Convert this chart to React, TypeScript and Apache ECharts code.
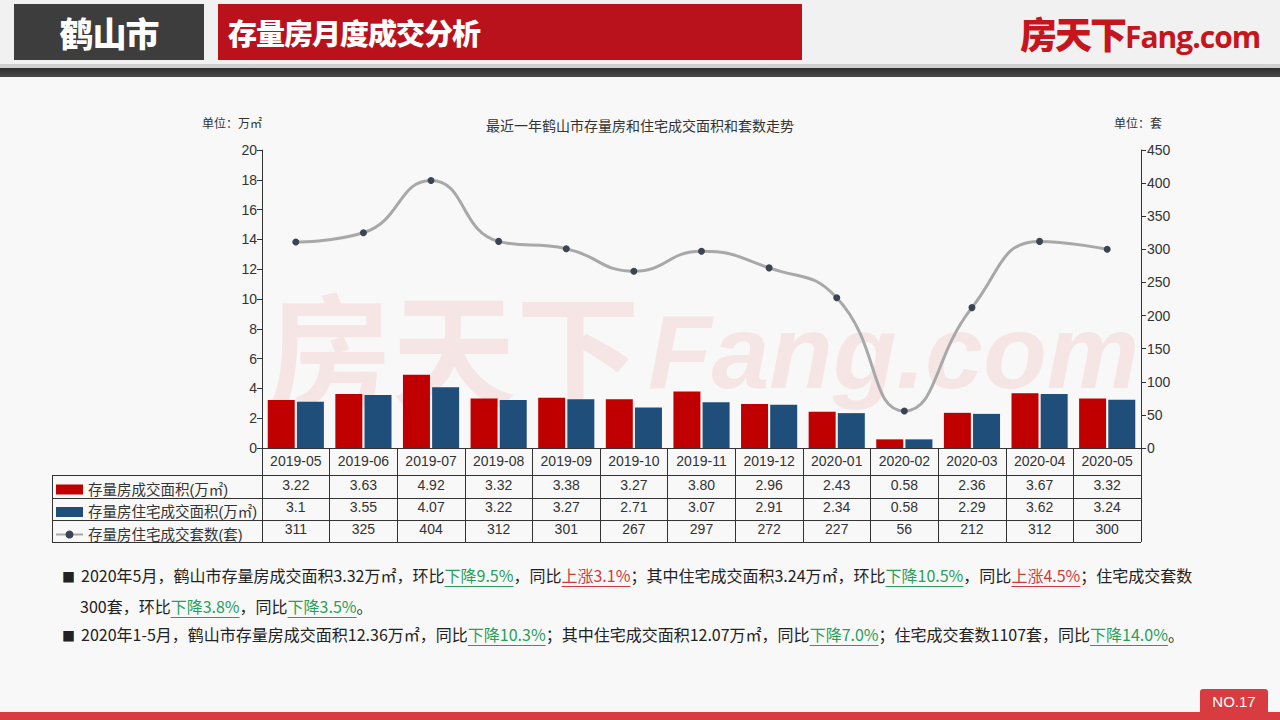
import React, { useEffect, useRef } from "react";
import * as echarts from "echarts";

const categories = ["2019-05", "2019-06", "2019-07", "2019-08", "2019-09", "2019-10", "2019-11", "2019-12", "2020-01", "2020-02", "2020-03", "2020-04", "2020-05"];
const totalArea = [3.22, 3.63, 4.92, 3.32, 3.38, 3.27, 3.8, 2.96, 2.43, 0.58, 2.36, 3.67, 3.32];
const residentialArea = [3.1, 3.55, 4.07, 3.22, 3.27, 2.71, 3.07, 2.91, 2.34, 0.58, 2.29, 3.62, 3.24];
const residentialUnits = [311, 325, 404, 312, 301, 267, 297, 272, 227, 56, 212, 312, 300];

const seriesNames = ["存量房成交面积(万㎡)", "存量房住宅成交面积(万㎡)", "存量房住宅成交套数(套)"];
const leftAxis = { min: 0, max: 20, interval: 2 };
const rightAxis = { min: 0, max: 450, interval: 50 };

const FONT = "'Liberation Sans', 'Noto Sans CJK SC', sans-serif";
const CJK = "'Noto Sans CJK SC', 'Liberation Sans', sans-serif";
const RED = "#c00000";
const BLUE = "#1f4e7a";
const GREEN = "#27a05a";
const PINK = "#d23a3a";

const G = ({ children }: { children: React.ReactNode }) => (
  <span style={{ color: GREEN, textDecoration: "underline", textUnderlineOffset: "4px" }}>{children}</span>
);
const R = ({ children }: { children: React.ReactNode }) => (
  <span style={{ color: PINK, textDecoration: "underline", textUnderlineOffset: "4px" }}>{children}</span>
);

export default function App() {
  const ref = useRef<HTMLDivElement>(null);

  useEffect(() => {
    if (!ref.current) return;
    const chart = echarts.init(ref.current, null, { renderer: "svg" });
    const gridLeft = 262;
    const gridRight = 1141;
    const axisY = 448;
    const lineStyle = { stroke: "#333", lineWidth: 1 };
    const rowYs = [475, 498, 520, 542];

    const tableAxis = (offset: number, fmt: (i: number) => string) => ({
      type: "category",
      data: categories,
      position: "bottom",
      offset,
      axisLine: { show: false },
      axisTick: { show: false },
      axisLabel: {
        interval: 0,
        fontSize: 14,
        color: "#333",
        fontFamily: FONT,
        margin: 6,
        formatter: (_v: string, i: number) => fmt(i),
      },
    });

    chart.setOption({
      animation: false,
      backgroundColor: "transparent",
      title: {
        text: "最近一年鹤山市存量房和住宅成交面积和套数走势",
        left: "center",
        top: 113,
        textStyle: { fontSize: 14, fontWeight: "normal", color: "#333", fontFamily: CJK },
      },
      legend: {
        orient: "vertical",
        left: 50,
        top: 477,
        itemWidth: 27,
        itemHeight: 10,
        itemGap: 7.5,
        textStyle: { fontSize: 14.5, color: "#333", fontFamily: FONT, lineHeight: 15 },
        data: [
          { name: seriesNames[0], icon: "rect" },
          { name: seriesNames[1], icon: "rect" },
          { name: seriesNames[2] },
        ],
      },
      grid: { left: gridLeft, right: 1280 - gridRight, top: 150, bottom: 720 - axisY, containLabel: false },
      xAxis: [
        {
          type: "category",
          data: categories,
          axisLine: { lineStyle: { color: "#333" } },
          axisTick: { show: true, length: 94, lineStyle: { color: "#333" } },
          axisLabel: { interval: 0, fontSize: 14, color: "#333", fontFamily: FONT, margin: 6 },
        },
        tableAxis(24, (i) => totalArea[i].toFixed(2)),
        tableAxis(46, (i) => String(residentialArea[i])),
        tableAxis(68, (i) => String(residentialUnits[i])),
      ],
      yAxis: [
        {
          type: "value",
          min: leftAxis.min,
          max: leftAxis.max,
          interval: leftAxis.interval,
          name: "单位：万㎡",
          nameLocation: "end",
          nameGap: 22,
          nameTextStyle: { fontSize: 12, color: "#333", fontFamily: CJK, align: "right", padding: [0, 0, 0, 0] },
          axisLine: { show: true, lineStyle: { color: "#333" } },
          axisTick: { show: true, length: 5, lineStyle: { color: "#333" } },
          axisLabel: { fontSize: 14, color: "#333", fontFamily: FONT, margin: 5 },
          splitLine: { show: false },
        },
        {
          type: "value",
          min: rightAxis.min,
          max: rightAxis.max,
          interval: rightAxis.interval,
          name: "单位：套",
          nameLocation: "end",
          nameGap: 22,
          nameTextStyle: { fontSize: 12, color: "#333", fontFamily: CJK, align: "left", padding: [0, 0, 0, -27] },
          axisLine: { show: true, lineStyle: { color: "#333" } },
          axisTick: { show: true, length: 5, lineStyle: { color: "#333" } },
          axisLabel: { fontSize: 14, color: "#333", fontFamily: FONT, margin: 6 },
          splitLine: { show: false },
        },
      ],
      series: [
        {
          name: seriesNames[0],
          type: "bar",
          data: totalArea,
          barWidth: 27,
          barGap: "8%",
          itemStyle: { color: RED },
          z: 3,
        },
        {
          name: seriesNames[1],
          type: "bar",
          data: residentialArea,
          barWidth: 27,
          itemStyle: { color: BLUE },
          z: 3,
        },
        {
          name: seriesNames[2],
          type: "line",
          yAxisIndex: 1,
          data: residentialUnits,
          smooth: 0.5,
          symbol: "circle",
          symbolSize: 7,
          lineStyle: { color: "#a8a8a8", width: 3 },
          itemStyle: { color: "#3b4452" },
          z: 4,
        },
      ],
      graphic: [
        {
          type: "text",
          z: -10,
          left: 268,
          top: 282,
          style: {
            text: "房天下",
            font: "bold 124px 'Noto Sans CJK SC'",
            fill: "rgba(225, 70, 70, 0.1)",
          },
        },
        {
          type: "text",
          z: -10,
          left: 648,
          top: 300,
          style: {
            text: "Fang.com",
            font: "italic bold 104px 'Liberation Sans'",
            fill: "rgba(225, 70, 70, 0.1)",
          },
        },
        ...rowYs.map((y) => ({
          type: "line",
          shape: { x1: 52, y1: y + 0.5, x2: gridRight, y2: y + 0.5 },
          style: lineStyle,
        })),
        {
          type: "line",
          shape: { x1: 52.5, y1: 475, x2: 52.5, y2: 542 },
          style: lineStyle,
        },
      ],
    });
    return () => chart.dispose();
  }, []);

  return (
    <div style={{ position: "fixed", left: 0, top: 0, width: 1280, height: 720, background: "#f8f8f8", overflow: "hidden", fontFamily: CJK }}>
      {/* header */}
      <div style={{ position: "absolute", left: 0, top: 0, width: 1280, height: 64, background: "#f1f1f1" }} />
      <div style={{ position: "absolute", left: 14, top: 4, width: 190, height: 56, background: "#3d3d3d", color: "#fff", fontSize: 34, fontWeight: 900, display: "flex", alignItems: "center", justifyContent: "center", letterSpacing: -1 }}>
        鹤山市
      </div>
      <div style={{ position: "absolute", left: 218, top: 4, width: 584, height: 56, background: "#b9121c", color: "#fff", fontSize: 29, fontWeight: 900, display: "flex", alignItems: "center", paddingLeft: 10, boxSizing: "border-box", letterSpacing: -1 }}>
        存量房月度成交分析
      </div>
      <div style={{ position: "absolute", left: 1020, top: 8, height: 50, display: "flex", alignItems: "center", color: "#c4161c", whiteSpace: "nowrap" }}>
        <span style={{ fontSize: 37, fontWeight: 900, letterSpacing: -2 }}>房天下</span>
        <span style={{ fontSize: 30, fontWeight: 700, fontFamily: "'Open Sans', 'Liberation Sans', sans-serif", letterSpacing: -1, marginTop: 6 }}>Fang.com</span>
      </div>
      <div style={{ position: "absolute", left: 0, top: 64, width: 1280, height: 4, background: "#cfcfcf" }} />
      <div style={{ position: "absolute", left: 0, top: 68, width: 1280, height: 9, background: "linear-gradient(#2e2e2e, #4a4a4a)" }} />

      {/* chart */}
      <div ref={ref} style={{ position: "absolute", left: 0, top: 0, width: 1280, height: 720 }} />

      {/* paragraphs */}
      <div style={{ position: "absolute", left: 62, top: 561, fontSize: 16, lineHeight: "28.5px", color: "#222", whiteSpace: "nowrap" }}>
        <div>
          <span style={{ fontSize: 13, marginRight: 6 }}>■</span>
          2020年5月，鹤山市存量房成交面积3.32万㎡，环比<G>下降9.5%</G>，同比<R>上涨3.1%</R>；其中住宅成交面积3.24万㎡，环比<G>下降10.5%</G>，同比<R>上涨4.5%</R>；住宅成交套数
        </div>
        <div style={{ paddingLeft: 18 }}>
          300套，环比<G>下降3.8%</G>，同比<G>下降3.5%</G>。
        </div>
        <div>
          <span style={{ fontSize: 13, marginRight: 6 }}>■</span>
          2020年1-5月，鹤山市存量房成交面积12.36万㎡，同比<G>下降10.3%</G>；其中住宅成交面积12.07万㎡，同比<G>下降7.0%</G>；住宅成交套数1107套，同比<G>下降14.0%</G>。
        </div>
      </div>

      {/* footer */}
      <div style={{ position: "absolute", left: 0, top: 712, width: 1280, height: 8, background: "#d83c40" }} />
      <div style={{ position: "absolute", left: 1200, top: 689, width: 68, height: 24, background: "#d83c40", borderRadius: "3px 3px 0 0", color: "#fff", fontSize: 15, fontFamily: "'Liberation Sans', sans-serif", display: "flex", alignItems: "center", justifyContent: "center" }}>
        NO.17
      </div>
    </div>
  );
}
